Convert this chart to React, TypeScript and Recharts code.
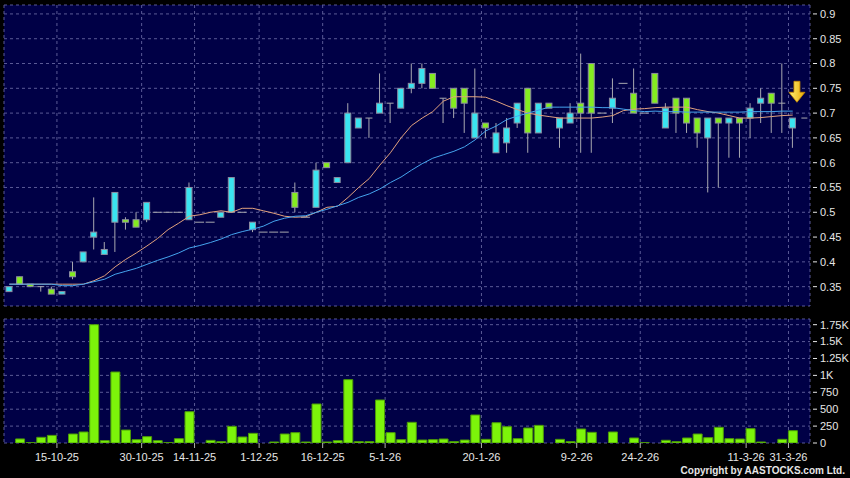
import React from 'react';
import {
  ComposedChart,
  Bar,
  Line,
  XAxis,
  YAxis,
  CartesianGrid,
  ReferenceDot,
} from 'recharts';

// one entry per trading slot (75 slots)
const opens = [
  0.34, 0.37, 0.355, 0.35, 0.345, 0.335, 0.38, 0.4, 0.45, 0.415,
  0.48, 0.485, 0.485, 0.485, 0.5, 0.5, 0.5, 0.485, 0.48, 0.48,
  0.49, 0.5, 0.5, 0.465, 0.46, 0.46, 0.46, 0.54, 0.49, 0.51,
  0.6, 0.56, 0.6, 0.67, 0.69, 0.7, 0.72, 0.71, 0.75, 0.76,
  0.78, 0.73, 0.75, 0.75, 0.65, 0.68, 0.62, 0.64, 0.68, 0.75,
  0.66, 0.72, 0.67, 0.68, 0.72, 0.8, 0.7, 0.71, 0.76, 0.74,
  0.7, 0.78, 0.67, 0.73, 0.73, 0.69, 0.65, 0.69, 0.68, 0.69,
  0.69, 0.72, 0.74, 0.72, 0.67,
];
const highs = [
  0.35, 0.37, 0.355, 0.35, 0.35, 0.34, 0.4, 0.42, 0.53, 0.44,
  0.54, 0.49, 0.5, 0.52, 0.5, 0.5, 0.5, 0.56, 0.48, 0.48,
  0.5, 0.57, 0.5, 0.48, 0.46, 0.46, 0.46, 0.56, 0.49, 0.6,
  0.6, 0.57, 0.72, 0.69, 0.69, 0.78, 0.72, 0.75, 0.8, 0.8,
  0.78, 0.73, 0.75, 0.75, 0.79, 0.68, 0.68, 0.69, 0.72, 0.75,
  0.72, 0.72, 0.69, 0.72, 0.82, 0.8, 0.7, 0.77, 0.76, 0.79,
  0.7, 0.78, 0.72, 0.73, 0.73, 0.69, 0.69, 0.69, 0.69, 0.69,
  0.72, 0.75, 0.74, 0.8, 0.69,
];
const lows = [
  0.34, 0.355, 0.35, 0.34, 0.335, 0.335, 0.365, 0.4, 0.425, 0.415,
  0.42, 0.465, 0.47, 0.48, 0.5, 0.5, 0.5, 0.485, 0.48, 0.48,
  0.49, 0.5, 0.5, 0.46, 0.46, 0.46, 0.46, 0.5, 0.49, 0.51,
  0.59, 0.56, 0.6, 0.67, 0.65, 0.7, 0.68, 0.71, 0.74, 0.75,
  0.75, 0.68, 0.69, 0.66, 0.65, 0.65, 0.62, 0.62, 0.67, 0.62,
  0.66, 0.71, 0.63, 0.68, 0.62, 0.62, 0.7, 0.68, 0.76, 0.7,
  0.7, 0.72, 0.67, 0.66, 0.66, 0.63, 0.54, 0.55, 0.61, 0.61,
  0.65, 0.68, 0.66, 0.66, 0.63,
];
const closes = [
  0.35, 0.355, 0.35, 0.35, 0.335, 0.34, 0.37, 0.42, 0.46, 0.425,
  0.54, 0.48, 0.47, 0.52, 0.5, 0.5, 0.5, 0.55, 0.48, 0.48,
  0.5, 0.57, 0.5, 0.48, 0.46, 0.46, 0.46, 0.51, 0.49, 0.585,
  0.59, 0.57, 0.7, 0.69, 0.69, 0.72, 0.72, 0.75, 0.76, 0.79,
  0.75, 0.73, 0.71, 0.72, 0.7, 0.67, 0.66, 0.67, 0.72, 0.66,
  0.72, 0.71, 0.69, 0.7, 0.7, 0.7, 0.7, 0.73, 0.76, 0.7,
  0.7, 0.72, 0.71, 0.7, 0.68, 0.66, 0.69, 0.68, 0.69, 0.68,
  0.71, 0.73, 0.72, 0.72, 0.69,
];
const volumes = [
  0, 60, 5, 84, 113, 0, 133, 163, 1750, 35,
  1050, 192, 49, 94, 35, 5, 64, 463, 0, 39,
  20, 246, 89, 143, 0, 15, 133, 153, 15, 577,
  15, 35, 937, 20, 20, 636, 153, 49, 306, 44,
  49, 59, 20, 44, 414, 54, 300, 241, 64, 222,
  261, 0, 54, 20, 207, 158, 0, 163, 0, 74,
  5, 0, 40, 20, 74, 133, 79, 232, 64, 59,
  212, 15, 0, 54, 182,
];
const maFast = [
  0.355, 0.355, 0.355, 0.355, 0.355, 0.355, 0.355, 0.355, 0.362, 0.372,
  0.39, 0.405, 0.418, 0.432, 0.447, 0.465, 0.478, 0.492, 0.495, 0.5,
  0.503, 0.5, 0.508, 0.508, 0.503, 0.498, 0.492, 0.49, 0.491, 0.5,
  0.51, 0.512, 0.53, 0.55, 0.568, 0.595, 0.62, 0.65, 0.675, 0.69,
  0.703, 0.724, 0.733, 0.733, 0.733, 0.732, 0.724, 0.715, 0.707, 0.7,
  0.696, 0.693, 0.69, 0.69, 0.69, 0.69, 0.692, 0.695, 0.705, 0.708,
  0.709, 0.711, 0.712, 0.712, 0.712, 0.707, 0.703, 0.7, 0.695, 0.69,
  0.69, 0.691, 0.693, 0.695, 0.696,
];
const maSlow = [
  0.355, 0.355, 0.355, 0.355, 0.355, 0.352, 0.352, 0.355, 0.36, 0.365,
  0.375, 0.381, 0.387, 0.395, 0.403, 0.41, 0.418, 0.428, 0.433, 0.439,
  0.446, 0.455, 0.461, 0.466, 0.472, 0.482, 0.488, 0.492, 0.493, 0.5,
  0.506, 0.513, 0.52, 0.53, 0.537, 0.547, 0.56, 0.571, 0.585, 0.598,
  0.609, 0.616, 0.623, 0.632, 0.646, 0.664, 0.674, 0.687, 0.694, 0.7,
  0.706, 0.712, 0.712, 0.712, 0.712, 0.712, 0.711, 0.711, 0.708, 0.705,
  0.703, 0.704, 0.703, 0.703, 0.702, 0.702, 0.702, 0.702, 0.702, 0.702,
  0.703, 0.703, 0.703, 0.704, 0.704,
];

const tickSlots = [4.5, 12.5, 17.5, 23.6, 29.6, 35.5, 44.6, 53.6, 59.6, 69.6, 73.6];
const tickLabels = ['15-10-25', '30-10-25', '14-11-25', '1-12-25', '16-12-25', '5-1-26', '20-1-26', '9-2-26', '24-2-26', '11-3-26', '31-3-26'];
const priceTicks = [0.35, 0.4, 0.45, 0.5, 0.55, 0.6, 0.65, 0.7, 0.75, 0.8, 0.85, 0.9];
const volTicks = [0, 250, 500, 750, 1000, 1250, 1500, 1750];
const volLabels = ['0', '250', '500', '750', '1K', '1.25K', '1.5K', '1.75K'];
const lastPrice = 0.69;

const rows = opens.map((o, i) => ({
  i,
  open: o,
  high: highs[i],
  low: lows[i],
  close: closes[i],
  vol: volumes[i],
  ma10: maFast[i],
  ma20: maSlow[i],
}));

const UP = '#3ae4f0';
const DOWN = '#84ec20';
const EDGE = '#8c8ca0';
const WICK = '#a8a8b0';
const TEXT = '#e6e6e6';
const PANEL = '#000046';
const GRID = '#5a5a96';

const Candle = (props: any) => {
  const { x, y, width, height, payload } = props;
  if (!payload || x == null) return null;
  const { open, close, high, low } = payload;
  const cx = x + width / 2;
  const span = high - low;
  const toY = (v: number) => (span > 0 ? y + ((high - v) / span) * height : y);
  const top = toY(Math.max(open, close));
  const bot = toY(Math.min(open, close));
  if (span === 0) {
    return <line x1={cx - 4.5} x2={cx + 4.5} y1={y} y2={y} stroke={WICK} strokeWidth={1} />;
  }
  const wick = <line x1={cx} x2={cx} y1={toY(high)} y2={toY(low)} stroke={WICK} strokeWidth={1} />;
  if (open === close) {
    return (
      <g>
        {wick}
        <line x1={cx - 3.5} x2={cx + 3.5} y1={top} y2={top} stroke={WICK} strokeWidth={1} />
      </g>
    );
  }
  return (
    <g>
      {wick}
      <rect
        x={cx - 3}
        y={top}
        width={6}
        height={Math.max(bot - top, 2)}
        fill={close > open ? UP : DOWN}
        stroke={EDGE}
        strokeWidth={1}
      />
    </g>
  );
};

const Arrow = (props: any) => {
  const { cx, cy } = props;
  return (
    <g>
      <defs>
        <linearGradient id="arrowFill" x1="0" y1="0" x2="1" y2="0">
          <stop offset="0%" stopColor="#fff27a" />
          <stop offset="100%" stopColor="#e9a800" />
        </linearGradient>
      </defs>
      <polygon
        points={`${cx - 3},${cy - 11} ${cx + 3},${cy - 11} ${cx + 3},${cy} ${cx + 8},${cy} ${cx},${cy + 10} ${cx - 8},${cy}, ${cx - 3},${cy}`}
        fill="url(#arrowFill)"
        stroke="#c98a00"
        strokeWidth={0.8}
      />
    </g>
  );
};

const PriceMark = (props: any) => {
  const { cx, cy } = props;
  return <line x1={cx - 3} x2={cx + 3} y1={cy} y2={cy} stroke={WICK} strokeWidth={1} />;
};

const SideTick = (props: any) => {
  const { x, y, payload, labels, values } = props;
  const label = labels ? labels[values.indexOf(payload.value)] : String(payload.value);
  return (
    <g>
      <line x1={x + 3} x2={x + 7} y1={y} y2={y} stroke={TEXT} strokeWidth={1} />
      <text x={x + 10} y={y} dy="0.35em" fill={TEXT} fontSize={11} textAnchor="start">
        {label}
      </text>
    </g>
  );
};

const dateLabel = (v: number) => {
  const k = tickSlots.indexOf(v);
  return k >= 0 ? tickLabels[k] : '';
};

export default function App() {
  return (
    <div
      style={{
        position: 'absolute',
        left: 0,
        top: 0,
        width: 850,
        height: 478,
        background: '#000',
        fontFamily: 'Arial, "Liberation Sans", sans-serif',
      }}
    >
      <ComposedChart width={850} height={310} data={rows} margin={{ top: 5, right: 0, left: 4, bottom: 4 }}>
        <CartesianGrid stroke={GRID} strokeDasharray="3 3" fill={PANEL} fillOpacity={1} />
        <XAxis
          type="number"
          dataKey="i"
          domain={[-0.5, 74.5]}
          allowDataOverflow
          ticks={tickSlots}
          padding={{ left: 0, right: 12 }}
          hide
        />
        <XAxis xAxisId="c" dataKey="i" type="category" padding={{ left: 0, right: 12 }} hide />
        <YAxis
          orientation="right"
          width={40}
          domain={[0.311, 0.918]}
          allowDataOverflow
          ticks={priceTicks}
          interval={0}
          axisLine={false}
          tickLine={false}
          tickSize={0}
          tickMargin={0}
          tick={<SideTick />}
        />
        <Bar
          xAxisId="c"
          dataKey={(d: any) => [d.low, d.high]}
          barSize={10}
          shape={<Candle />}
          isAnimationActive={false}
        />
        <Line xAxisId="c" dataKey="ma10" stroke="#e2a27e" strokeWidth={1} dot={false} isAnimationActive={false} />
        <Line xAxisId="c" dataKey="ma20" stroke="#45a4ee" strokeWidth={1} dot={false} isAnimationActive={false} />
        <ReferenceDot x={74.4} y={0.742} ifOverflow="visible" shape={<Arrow />} />
        <ReferenceDot x={75.1} y={lastPrice} ifOverflow="visible" shape={<PriceMark />} />
      </ComposedChart>
      <ComposedChart width={850} height={168} data={rows} margin={{ top: 9, right: 0, left: 4, bottom: 0 }}>
        <CartesianGrid stroke={GRID} strokeDasharray="3 3" fill={PANEL} fillOpacity={1} />
        <XAxis
          type="number"
          dataKey="i"
          domain={[-0.5, 74.5]}
          allowDataOverflow
          ticks={tickSlots}
          interval={0}
          padding={{ left: 0, right: 12 }}
          height={35}
          axisLine={false}
          tickLine={{ stroke: '#b0b0b0' }}
          tickSize={5}
          tickMargin={5}
          tickFormatter={dateLabel}
          tick={{ fill: TEXT, fontSize: 11 }}
        />
        <XAxis xAxisId="c" dataKey="i" type="category" padding={{ left: 0, right: 12 }} hide />
        <YAxis
          orientation="right"
          width={40}
          domain={[0, 1834]}
          allowDataOverflow
          ticks={volTicks}
          interval={0}
          axisLine={false}
          tickLine={false}
          tickSize={0}
          tickMargin={0}
          tick={<SideTick labels={volLabels} values={volTicks} />}
        />
        <Bar
          xAxisId="c"
          dataKey="vol"
          barSize={9}
          fill="#7cf40a"
          stroke="#4c9a08"
          strokeWidth={1}
          isAnimationActive={false}
        />
      </ComposedChart>
      <div
        style={{
          position: 'absolute',
          right: 5,
          top: 465,
          color: TEXT,
          fontSize: 10,
          fontWeight: 'bold',
          letterSpacing: 0,
          whiteSpace: 'nowrap',
        }}
      >
        Copyright by AASTOCKS.com Ltd.
      </div>
    </div>
  );
}
